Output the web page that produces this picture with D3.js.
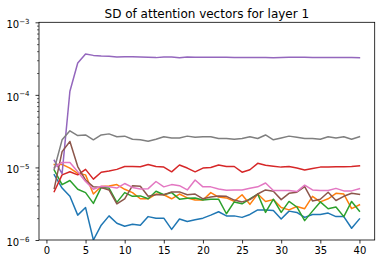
<!DOCTYPE html>
<html>
<head>
  <meta charset="utf-8">
  <script src="https://cdn.jsdelivr.net/npm/d3@7"></script>
  <style>
    body { margin: 0; background: #fff; }
    text { font-family: "DejaVu Sans", sans-serif; }
  </style>
</head>
<body>
<script>
// layer index along x
var layers = [1,2,3,4,5,6,7,8,9,10,11,12,13,14,15,16,17,18,19,20,
              21,22,23,24,25,26,27,28,29,30,31,32,33,34,35,36,37,38,39,40];

// SD values, in units of 1e-6
var head0 = [7.9,5.2,4.0,2.2,2.8,1.0,1.6,2.15,1.7,1.55,1.65,1.6,2.1,2.0,2.0,1.4,1.95,1.8,1.9,2.0,
             2.2,2.45,2.15,2.15,2.05,2.25,2.6,2.6,2.55,1.95,2.5,2.4,2.05,2.25,2.25,2.35,2.1,2.1,1.45,1.95];
var head1 = [11.0,11.0,9.8,8.3,7.9,4.3,5.45,5.55,5.8,5.0,4.5,3.7,3.7,4.3,4.2,3.7,4.3,3.8,3.55,3.55,
             4.5,3.9,3.8,3.4,4.2,3.1,4.3,3.4,3.6,2.8,2.6,2.9,2.7,4.0,3.35,3.7,4.4,4.3,2.7,3.05];
var head2 = [9.2,5.8,6.6,5.0,4.5,3.2,5.3,5.2,3.3,4.5,4.0,4.05,3.7,4.7,4.2,4.5,3.65,3.75,3.8,3.55,
             3.65,3.65,2.3,3.35,3.15,3.7,4.3,2.4,3.65,2.4,3.4,2.85,1.85,2.5,3.35,2.7,2.85,2.1,3.4,2.5];
var head3 = [4.65,7.9,8.7,7.9,9.4,6.9,8.6,8.9,9.4,10.3,10.3,10.2,11.0,10.3,10.1,8.7,10.8,9.8,8.7,9.8,
             10.0,10.8,10.3,10.3,8.6,9.3,11.4,10.7,10.4,10.1,10.3,9.8,9.2,9.7,10.1,10.1,10.2,10.2,10.3,10.5];
var head4 = [12.5,8.2,112,275,366,350,342,340,332,336,335,333,330,326,333,333,325,333,330,330,
             330,330,330,328,328,326,326,326,325,328,330,330,330,328,328,328,328,326,326,325];
var head5 = [5.15,16.5,22.8,10.3,6.7,5.4,5.3,4.9,3.15,3.7,5.6,5.5,4.0,4.2,4.2,4.6,4.6,4.2,4.3,3.7,
             3.9,4.05,4.0,3.55,3.35,3.6,4.3,4.9,4.7,3.6,4.4,4.55,5.45,3.45,3.65,4.55,3.5,4.0,4.4,4.25];
var head6 = [10.0,11.7,11.7,8.7,6.4,5.0,5.5,5.4,5.2,6.0,5.3,5.05,5.1,6.4,5.4,5.8,5.6,4.9,6.7,5.4,
             5.4,5.05,4.85,4.9,4.9,5.15,5.4,6.1,4.8,4.8,4.8,4.65,5.7,4.9,4.8,4.8,5.15,4.75,4.75,5.1];
var head7 = [9.5,24,32,27.5,28,24,28,29,26.5,27,24.5,24,23,24.5,26.5,25.5,25.5,27,26,26.5,
             26.5,25,25,24.5,25,26.5,25,28,24,25.5,27,26,25,25,24.5,26.5,25.5,26.5,24.5,26.5];

var heads = [head0, head1, head2, head3, head4, head5, head6, head7];
var colors = ["#1f77b4","#ff7f0e","#2ca02c","#d62728","#9467bd","#8c564b","#e377c2","#7f7f7f"];
var xTicks = [0,5,10,15,20,25,30,35,40];
var yTicks = [1e-6,1e-5,1e-4,1e-3];
var yTickExp = ["\u22126","\u22125","\u22124","\u22123"];
var title = "SD of attention vectors for layer 1";

var W = 384, H = 264;
var L = 39, R = 374.7, T = 22.3, B = 240;

var svg = d3.select("body").append("svg")
  .attr("width", W).attr("height", H);

var x = d3.scaleLinear().domain([-0.95, 41.95]).range([L, R]);
var y = d3.scaleLog().domain([1e-6, 1e-3]).range([B, T]);

svg.append("defs").append("clipPath").attr("id", "clip")
  .append("rect").attr("x", L).attr("y", T).attr("width", R - L).attr("height", B - T);

var line = d3.line()
  .x(function(d) { return x(d[0]); })
  .y(function(d) { return y(d[1] * 1e-6); });

var plot = svg.append("g").attr("clip-path", "url(#clip)");
heads.forEach(function(h, i) {
  plot.append("path")
    .datum(layers.map(function(l, j) { return [l, h[j]]; }))
    .attr("d", line)
    .attr("fill", "none")
    .attr("stroke", colors[i])
    .attr("stroke-width", 1.5)
    .attr("stroke-linejoin", "round")
    .attr("stroke-linecap", "square");
});

// x axis
var xAxis = svg.append("g")
  .attr("transform", "translate(0," + B + ")")
  .call(d3.axisBottom(x).tickValues(xTicks).tickSize(3.5).tickPadding(3.5).tickSizeOuter(0));
xAxis.select(".domain").remove();
xAxis.selectAll("line").attr("stroke", "#000").attr("stroke-width", 0.8);
xAxis.selectAll("text").attr("font-size", 10).attr("fill", "#000")
  .attr("font-family", "DejaVu Sans");

// y axis: minor ticks
var minors = [];
[1e-6, 1e-5, 1e-4].forEach(function(d) {
  for (var k = 2; k <= 9; k++) minors.push(d * k);
});
var yMinor = svg.append("g")
  .attr("transform", "translate(" + L + ",0)")
  .call(d3.axisLeft(y).tickValues(minors).tickSize(2).tickFormat(""));
yMinor.select(".domain").remove();
yMinor.selectAll("line").attr("stroke", "#000").attr("stroke-width", 0.6);

var yMajor = svg.append("g")
  .attr("transform", "translate(" + L + ",0)")
  .call(d3.axisLeft(y).tickValues(yTicks).tickSize(3.5).tickFormat(""));
yMajor.select(".domain").remove();
yMajor.selectAll("line").attr("stroke", "#000").attr("stroke-width", 0.8);

yTicks.forEach(function(v, i) {
  var t = svg.append("text")
    .attr("x", L - 9.5)
    .attr("y", y(v) + 6)
    .attr("text-anchor", "end")
    .attr("font-size", 10)
    .attr("fill", "#000");
  t.append("tspan").text("10");
  t.append("tspan").attr("font-size", 7).attr("dy", -4.5).text(yTickExp[i]);
});

// frame
svg.append("rect")
  .attr("x", L).attr("y", T).attr("width", R - L).attr("height", B - T)
  .attr("fill", "none").attr("stroke", "#000").attr("stroke-width", 0.8);

svg.append("text")
  .attr("x", (L + R) / 2).attr("y", 17.5)
  .attr("text-anchor", "middle")
  .attr("font-size", 12)
  .attr("fill", "#000")
  .text(title);
</script>
</body>
</html>
